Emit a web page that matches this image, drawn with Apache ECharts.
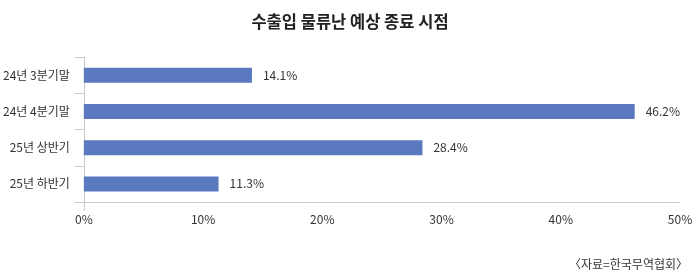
<!DOCTYPE html>
<html><head><meta charset="utf-8">
<script src="https://cdn.jsdelivr.net/npm/echarts@6/dist/echarts.min.js"></script>
<style>html,body{margin:0;padding:0;background:#fff}#c{width:700px;height:278px}</style>
</head><body><div id="c"></div>
<script>
const categories = ['24년 3분기말', '24년 4분기말', '25년 상반기', '25년 하반기'];
const values = [14.1, 46.2, 28.4, 11.3];
const xTicks = [0, 10, 20, 30, 40, 50];
const titleText = '수출입 물류난 예상 종료 시점';
const sourceText = '〈자료=한국무역협회〉';

const font = '"Noto Sans CJK KR", "Noto Sans", sans-serif';
const chart = echarts.init(document.getElementById('c'), null, {renderer: 'canvas'});
chart.setOption({
  animation: false,
  textStyle: {fontFamily: font},
  title: [{
    text: titleText, left: 'center', top: 8,
    textStyle: {fontFamily: font, fontSize: 16.5, fontWeight: 'bold', color: '#222'}
  }, {
    text: sourceText, right: 7, top: 253,
    textStyle: {fontFamily: font, fontSize: 12, fontWeight: 'normal', color: '#333'}
  }],
  grid: {left: 82, right: 20, top: 57, bottom: 76, containLabel: false},
  xAxis: {
    type: 'value', min: xTicks[0], max: xTicks[xTicks.length - 1], interval: 10,
    axisLine: {show: true, lineStyle: {color: '#c8c8c8', width: 1}},
    axisTick: {show: false},
    splitLine: {show: false},
    axisLabel: {formatter: '{value}%', color: '#333', fontSize: 12, margin: 11, fontFamily: font}
  },
  yAxis: {
    type: 'category', data: categories, inverse: true,
    axisLine: {show: true, lineStyle: {color: '#c8c8c8', width: 1}},
    axisTick: {show: true, length: 9, lineStyle: {color: '#c8c8c8'}},
    axisLabel: {color: '#333', fontSize: 12, margin: 14, fontFamily: font}
  },
  series: [{
    type: 'bar', data: values, barWidth: 15,
    itemStyle: {color: '#5b79be'},
    label: {show: true, position: 'right', distance: 11, formatter: p => p.value.toFixed(1) + '%',
      color: '#333', fontSize: 12, fontFamily: font}
  }]
});
// small extension of the y-axis line below the x-axis (decoration only)
const rect = chart.getModel().getComponent('grid').coordinateSystem.getRect();
chart.setOption({
  graphic: [{
    type: 'line', silent: true,
    shape: {x1: rect.x + 0.5, y1: rect.y + rect.height, x2: rect.x + 0.5, y2: rect.y + rect.height + 9},
    style: {stroke: '#c8c8c8', lineWidth: 1}
  }]
});
</script></body></html>
